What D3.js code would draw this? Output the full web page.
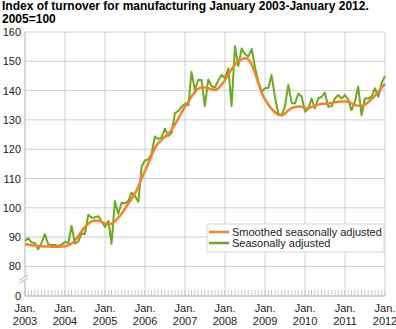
<!DOCTYPE html>
<html>
<head>
<meta charset="utf-8">
<script src="https://cdn.jsdelivr.net/npm/d3@7"></script>
<style>
  body { margin: 0; background: #fff; }
  svg text { font-family: "Liberation Sans", Arial, sans-serif; fill: #222; }
</style>
</head>
<body>
<svg id="chart" width="396" height="329"></svg>
<script>
// Monthly index values, January 2003 - January 2012 (2005=100)
const firstMonth = [2003, 0];
const smoothed = [
  87.6, 87.4, 87.2, 87.1, 87.0, 86.9, 86.8, 86.8, 86.7, 86.7, 86.7, 86.8,
  86.9, 87.2, 87.8, 88.9, 90.4, 92.0, 93.4, 94.6, 95.4, 95.7, 95.6, 95.2,
  94.7, 94.4, 94.6, 95.4, 96.6, 98.0, 99.6, 101.4, 103.1, 104.9, 107.2, 110.0,
  112.6, 115.2, 117.8, 120.3, 122.0, 123.2, 124.2, 125.2, 126.7, 128.5, 130.5, 132.5,
  134.5, 136.3, 138.0, 139.5, 140.6, 141.1, 141.1, 140.8, 140.5, 140.2, 140.8, 142.0,
  143.6, 145.5, 147.3, 148.8, 150.0, 150.7, 151.0, 150.6, 148.8, 146.0, 142.5, 139.3,
  137.0, 135.2, 133.8, 132.6, 131.8, 131.6, 132.2, 133.2, 134.0, 134.4, 134.6, 134.5,
  134.1, 134.0, 134.4, 134.8, 135.2, 135.4, 135.5, 135.6, 135.8, 136.0, 136.2, 136.3,
  136.3, 136.2, 135.6, 135.1, 134.8, 134.8, 135.2, 136.0, 137.1, 138.3, 139.6, 141.0,
  142.3
];
const seasonal = [
  88.7, 89.6, 88.2, 88.0, 85.8, 88.0, 91.0, 87.5, 87.3, 87.3, 87.0, 87.5,
  88.3, 88.0, 93.8, 87.8, 88.5, 91.3, 91.0, 97.6, 96.6, 96.8, 97.1, 95.3,
  93.5, 95.5, 87.7, 102.3, 98.0, 101.7, 101.5, 102.3, 105.2, 104.0, 102.0, 114.0,
  116.2, 116.5, 118.5, 124.3, 123.5, 124.0, 127.0, 124.5, 125.5, 132.3, 133.0, 134.5,
  135.5, 135.0, 146.4, 140.2, 143.6, 143.6, 134.7, 143.8, 141.5, 141.0, 143.5, 145.3,
  144.2, 147.6, 134.7, 155.2, 148.4, 154.4, 152.5, 151.6, 154.2, 148.0, 143.0, 139.6,
  140.8, 141.0, 145.3, 137.9, 132.2, 131.6, 134.5, 141.9, 135.8, 135.6, 139.0, 137.9,
  132.8, 133.9, 137.3, 133.9, 137.3, 137.9, 139.3, 134.5, 134.7, 137.3, 138.5, 137.3,
  138.5, 136.8, 133.3, 136.2, 141.3, 131.6, 137.3, 137.3, 137.9, 140.8, 137.9, 142.5,
  145.0
];
const yTicks = [0, 80, 90, 100, 110, 120, 130, 140, 150, 160];
const yearLabels = ["2003", "2004", "2005", "2006", "2007", "2008", "2009", "2010", "2011", "2012"];
const seriesNames = ["Smoothed seasonally adjusted", "Seasonally adjusted"];
const seriesColors = ["#f5822a", "#6aaa1e"];
const title = ["Index of turnover for manufacturing January 2003-January 2012.", "2005=100"];

const svg = d3.select("#chart");
const plot = { left: 25, right: 385, top: 32, bottom: 296 };

const start = new Date(firstMonth[0], firstMonth[1], 1);
const months = d3.timeMonth.range(start, d3.timeMonth.offset(start, seasonal.length));
const yearStarts = yearLabels.map(y => new Date(+y, 0, 1));

const x = d3.scaleTime()
  .domain([yearStarts[0], yearStarts[yearStarts.length - 1]])
  .range([plot.left, plot.right]);

// Broken value axis: 0 sits one step below 80
const y = d3.scaleLinear()
  .domain([0, 80, 160])
  .range([plot.bottom, plot.bottom - 29.6, plot.top]);

// Title
svg.append("g").selectAll("text").data(title).join("text")
  .attr("x", 2).attr("y", (d, i) => 10 + i * 13.3)
  .attr("font-size", 12).attr("font-weight", "bold")
  .style("fill", "#000")
  .text(d => d);

// Horizontal gridlines
svg.append("g").selectAll("line").data(yTicks.filter(v => v > 0)).join("line")
  .attr("x1", plot.left).attr("x2", plot.right)
  .attr("y1", d => y(d)).attr("y2", d => y(d))
  .attr("stroke", "#d0d0d0").attr("stroke-width", 1);

// Vertical year gridlines
svg.append("g").selectAll("line").data(yearStarts.slice(1)).join("line")
  .attr("x1", d => x(d)).attr("x2", d => x(d))
  .attr("y1", plot.top).attr("y2", plot.bottom)
  .attr("stroke", "#d0d0d0").attr("stroke-width", 1);

// Monthly ticks along the bottom
const monthTicks = d3.timeMonth.range(yearStarts[0], d3.timeMonth.offset(yearStarts[yearStarts.length - 1], 1));
svg.append("g").selectAll("line").data(monthTicks).join("line")
  .attr("x1", d => x(d)).attr("x2", d => x(d))
  .attr("y1", plot.bottom - 6).attr("y2", plot.bottom)
  .attr("stroke", "#bbbbbb").attr("stroke-width", 0.8);

// Axis lines
svg.append("line")
  .attr("x1", plot.left).attr("x2", plot.right)
  .attr("y1", plot.bottom).attr("y2", plot.bottom)
  .attr("stroke", "#b0b0b0");
svg.append("line")
  .attr("x1", plot.left).attr("x2", plot.left)
  .attr("y1", plot.top).attr("y2", plot.bottom)
  .attr("stroke", "#b0b0b0");

// Axis break mark
const yb = (y(0) + y(80)) / 2;
svg.append("polygon")
  .attr("points", `${plot.left - 6},${yb + 2} ${plot.left + 3},${yb - 3} ${plot.left + 3},${yb - 6} ${plot.left - 6},${yb - 1}`)
  .attr("fill", "#fff");
[0, 3].forEach(o => {
  svg.append("line")
    .attr("x1", plot.left - 6).attr("y1", yb + 2 - o)
    .attr("x2", plot.left + 3).attr("y2", yb - 3 - o)
    .attr("stroke", "#b0b0b0").attr("stroke-width", 1);
});

// Y tick labels
svg.append("g").selectAll("text").data(yTicks).join("text")
  .attr("x", plot.left - 4).attr("y", d => y(d) + 4)
  .attr("text-anchor", "end").attr("font-size", 11)
  .text(d => d);

// X tick labels
const xl = svg.append("g").selectAll("g").data(yearStarts).join("g")
  .attr("transform", d => `translate(${x(d)},0)`);
xl.append("text").attr("y", 312).attr("text-anchor", "middle").attr("font-size", 11).text("Jan.");
xl.append("text").attr("y", 325).attr("text-anchor", "middle").attr("font-size", 11).text((d, i) => yearLabels[i]);

// Series lines
const line = d3.line()
  .x((d, i) => x(months[i]))
  .y(d => y(d))
  .curve(d3.curveLinear);

svg.append("path").datum(seasonal)
  .attr("d", line).attr("fill", "none")
  .attr("stroke", seriesColors[1]).attr("stroke-width", 2)
  .attr("stroke-linejoin", "round");
svg.append("path").datum(smoothed)
  .attr("d", line.curve(d3.curveMonotoneX)).attr("fill", "none")
  .attr("stroke", seriesColors[0]).attr("stroke-width", 2.5)
  .attr("stroke-linejoin", "round");

// Legend
const legend = svg.append("g").attr("transform", "translate(207,224)");
legend.append("rect").attr("width", 177).attr("height", 28)
  .attr("fill", "#fff").attr("stroke", "#d8d8d8");
const li = legend.selectAll("g").data(seriesNames).join("g")
  .attr("transform", (d, i) => `translate(0,${8 + i * 11})`);
li.append("line").attr("x1", 2).attr("x2", 22).attr("y1", 0).attr("y2", 0)
  .attr("stroke", (d, i) => seriesColors[i]).attr("stroke-width", 2.5);
li.append("text").attr("x", 25).attr("y", 4).attr("font-size", 11).text(d => d);
</script>
</body>
</html>
